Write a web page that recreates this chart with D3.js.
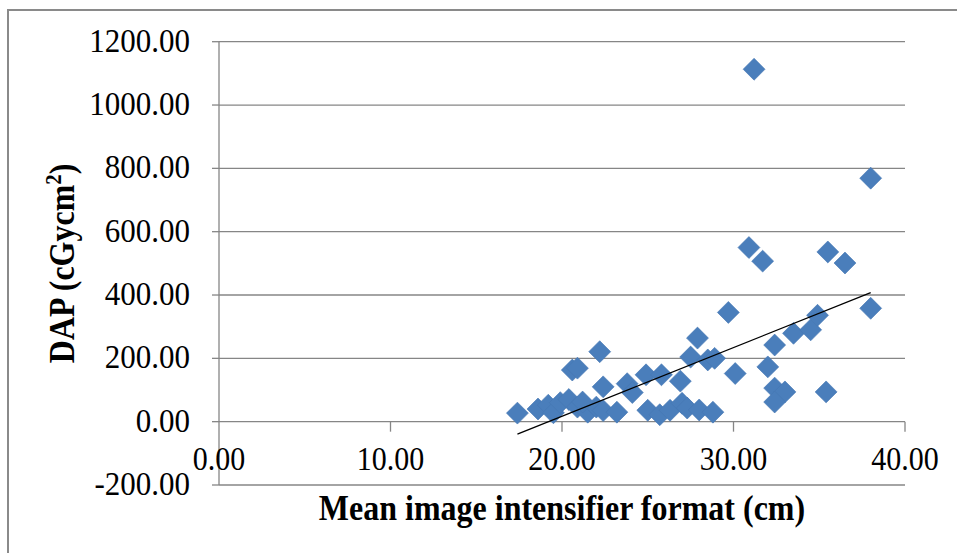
<!DOCTYPE html>
<html>
<head>
<meta charset="utf-8">
<script src="https://cdn.jsdelivr.net/npm/d3@7"></script>
<style>
  html, body { margin: 0; padding: 0; background: #fff; }
  svg { display: block; }
</style>
</head>
<body>
<svg id="chart" width="957" height="553"></svg>
<script>
// image intensifier format (cm) vs DAP (cGycm2)
const formatCm = [
  17.4, 18.6, 19.2, 19.5, 19.9, 20.4, 20.6, 20.9, 20.9, 21.5,
  22.0, 22.2, 22.4, 22.4, 23.2, 23.8, 24.1, 24.9, 25.0, 25.7,
  25.8, 26.3, 26.9, 27.0, 27.3, 27.5, 27.9, 28.0, 28.5, 28.9,
  28.8, 29.7, 30.1, 30.9, 31.2, 31.7, 32.0, 32.4, 32.4, 33.0,
  32.4, 33.5, 34.5, 34.9, 35.4, 35.5, 36.5, 38.0, 38.0, 21.2
];
const dapValues = [
  27, 40, 52, 28, 60, 70, 163, 169, 46, 30,
  46, 221, 110, 35, 30, 120, 92, 148, 36, 22,
  148, 36, 128, 58, 43, 204, 264, 37, 195, 200,
  30, 345, 152, 550, 1113, 507, 173, 242, 106, 94,
  62, 279, 290, 336, 94, 536, 501, 769, 358, 62
];
// linear trendline as drawn (slope per cm, intercept)
const trendSlope = 21.7;
const trendIntercept = -417;

const xTicks = [0, 10, 20, 30, 40];
const yTicks = [-200, 0, 200, 400, 600, 800, 1000, 1200];

const svg = d3.select('#chart');
const serif = '"Liberation Serif", "Times New Roman", serif';
const stretch = 1.12; // texte un peu étiré en hauteur
const fmt = d => d.toFixed(2); // tiret simple, pas le signe moins unicode

// cadre extérieur
svg.append('rect')
  .attr('x', 8).attr('y', 10)
  .attr('width', 1000).attr('height', 600)
  .attr('fill', 'none').attr('stroke', '#8a8a8a').attr('stroke-width', 2);

const x = d3.scaleLinear().domain([0, 40]).range([219, 905]);
const y = d3.scaleLinear().domain([-200, 1200]).range([485, 41.7]);

// lignes de grille horizontales
svg.append('g').selectAll('line')
  .data(yTicks)
  .enter().append('line')
  .attr('x1', x(0)).attr('x2', x(40))
  .attr('y1', d => y(d)).attr('y2', d => y(d))
  .attr('stroke', '#868686').attr('stroke-width', 1.3);

// axe vertical
svg.append('line')
  .attr('x1', x(0)).attr('x2', x(0))
  .attr('y1', y(1200)).attr('y2', y(-200))
  .attr('stroke', '#868686').attr('stroke-width', 1.3);

svg.append('g').selectAll('line')
  .data(yTicks)
  .enter().append('line')
  .attr('x1', x(0) - 7).attr('x2', x(0))
  .attr('y1', d => y(d)).attr('y2', d => y(d))
  .attr('stroke', '#868686').attr('stroke-width', 1.3);

svg.append('g').selectAll('text')
  .data(yTicks)
  .enter().append('text')
  .attr('transform', d => `translate(190, ${y(d) + 10}) scale(1, ${stretch})`)
  .attr('text-anchor', 'end')
  .attr('font-family', serif).attr('font-size', 31)
  .attr('fill', '#000')
  .text(fmt);

// axe horizontal (croise à y = 0)
svg.append('g').selectAll('line')
  .data(xTicks.filter(d => d > 0))
  .enter().append('line')
  .attr('x1', d => x(d)).attr('x2', d => x(d))
  .attr('y1', y(0)).attr('y2', y(0) + 10)
  .attr('stroke', '#868686').attr('stroke-width', 1.3);

svg.append('g').selectAll('text')
  .data(xTicks)
  .enter().append('text')
  .attr('transform', d => `translate(${x(d)}, 470) scale(1, ${stretch})`)
  .attr('text-anchor', 'middle')
  .attr('font-family', serif).attr('font-size', 30)
  .attr('fill', '#000')
  .text(fmt);

// points (losanges)
const points = formatCm.map((d, i) => ({ x: d, y: dapValues[i] }));
const diamond = d3.symbol().type(d3.symbolSquare).size(240);

svg.append('g').selectAll('path')
  .data(points)
  .enter().append('path')
  .attr('d', diamond)
  .attr('transform', d => `translate(${x(d.x)}, ${y(d.y)}) rotate(45)`)
  .attr('fill', '#4a7ebb')
  .attr('stroke', '#4577b3').attr('stroke-width', 0.6);

// courbe de tendance
const xMin = d3.min(formatCm), xMax = d3.max(formatCm);
const trend = [xMin, xMax].map(v => ({ x: v, y: trendSlope * v + trendIntercept }));
svg.append('path')
  .datum(trend)
  .attr('d', d3.line().x(d => x(d.x)).y(d => y(d.y)))
  .attr('fill', 'none').attr('stroke', '#000').attr('stroke-width', 1.3);

// titres des axes
svg.append('text')
  .attr('transform', `translate(${(x(0) + x(40)) / 2}, 520) scale(1, ${stretch})`)
  .attr('text-anchor', 'middle')
  .attr('font-family', serif).attr('font-size', 32).attr('font-weight', 'bold')
  .text('Mean image intensifier format (cm)');

const yTitle = svg.append('text')
  .attr('transform', `translate(74, ${(y(1200) + y(-200)) / 2}) rotate(-90) scale(1, ${stretch})`)
  .attr('text-anchor', 'middle')
  .attr('font-family', serif).attr('font-size', 32).attr('font-weight', 'bold');
yTitle.append('tspan').text('DAP (cGycm');
yTitle.append('tspan').attr('dy', -12).attr('font-size', 21).text('2');
yTitle.append('tspan').attr('dy', 12).text(')');
</script>
</body>
</html>
